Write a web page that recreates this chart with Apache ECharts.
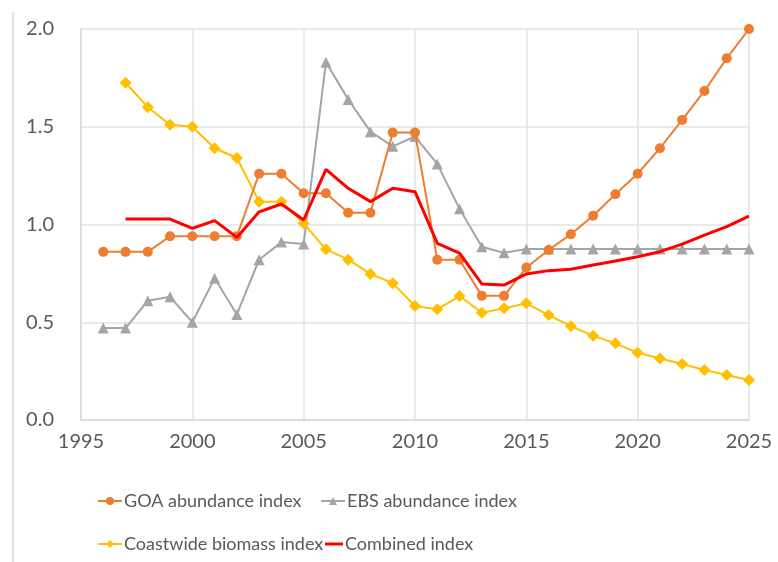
<!DOCTYPE html>
<html><head><meta charset="utf-8">
<script src="https://cdn.jsdelivr.net/npm/echarts@6/dist/echarts.min.js"></script>
<style>html,body{margin:0;padding:0;background:#fff}#c{width:778px;height:562px}</style>
</head><body><div id="c"></div>
<script>
const years = [1996,1997,1998,1999,2000,2001,2002,2003,2004,2005,2006,2007,2008,2009,2010,2011,2012,2013,2014,2015,2016,2017,2018,2019,2020,2021,2022,2023,2024,2025];
const goa = [0.86,0.86,0.86,0.94,0.94,0.94,0.94,1.26,1.26,1.16,1.16,1.06,1.06,1.47,1.47,0.82,0.82,0.635,0.635,0.78,0.87,0.95,1.045,1.155,1.26,1.39,1.535,1.683,1.85,2.0];
const ebs = [0.47,0.47,0.61,0.63,0.50,0.725,0.54,0.82,0.91,0.90,1.83,1.64,1.475,1.40,1.45,1.31,1.08,0.886,0.855,0.875,0.875,0.875,0.875,0.875,0.875,0.875,0.875,0.875,0.875,0.875];
const coast = [null,1.725,1.60,1.51,1.50,1.39,1.34,1.117,1.117,1.006,0.873,0.82,0.747,0.70,0.583,0.566,0.634,0.549,0.571,0.597,0.537,0.48,0.431,0.392,0.344,0.315,0.286,0.256,0.23,0.205];
const combined = [null,1.028,1.028,1.028,0.98,1.02,0.934,1.065,1.105,1.023,1.282,1.185,1.117,1.185,1.168,0.904,0.853,0.696,0.69,0.747,0.764,0.771,0.793,0.813,0.835,0.861,0.90,0.946,0.989,1.043];
const names = ['GOA abundance index','EBS abundance index','Coastwide biomass index','Combined index'];

const pair = a => years.map((y,i)=>[y,a[i]]).filter(p=>p[1]!==null);
const font = 'Lato, "Open Sans", sans-serif';
const chart = echarts.init(document.getElementById('c'));
const legendBase = {itemWidth:24,itemHeight:10,textStyle:{fontFamily:font,fontSize:18,color:'#595959',padding:[0,0,0,-3]},padding:0,itemGap:4};
chart.setOption({
  animation:false,
  graphic:[{type:'line',shape:{x1:13,y1:12,x2:13,y2:562},style:{stroke:'#d9d9d9',lineWidth:1.5}}],
  grid:{left:81,right:29,top:29,bottom:142},
  xAxis:{type:'value',min:1995,max:2025,interval:5,
    axisLine:{show:true,lineStyle:{color:'#d9d9d9',width:1.5}},axisTick:{show:false},
    splitLine:{show:true,lineStyle:{color:'#e3e3e3',width:1.5}},
    axisLabel:{fontFamily:font,fontSize:20,color:'#595959',margin:12,formatter:v=>String(v)}},
  yAxis:{type:'value',min:0,max:2,interval:0.5,
    axisLine:{show:true,lineStyle:{color:'#d9d9d9',width:1.5}},axisTick:{show:false},
    splitLine:{show:true,lineStyle:{color:'#e3e3e3',width:1.5}},
    axisLabel:{fontFamily:font,fontSize:20,color:'#595959',margin:27,formatter:v=>v.toFixed(1)}},
  legend:[
    Object.assign({},legendBase,{data:[names[0]],left:97,top:492}),
    Object.assign({},legendBase,{data:[names[1]],left:320,top:492}),
    Object.assign({},legendBase,{data:[names[2]],left:97,top:535}),
    Object.assign({},legendBase,{data:[{name:names[3],icon:'rect'}],itemHeight:3,itemWidth:18,left:325,top:535})
  ],
  series:[
    {name:names[0],type:'line',data:pair(goa),color:'#ED7D31',symbol:'circle',symbolSize:10,lineStyle:{width:2},z:3},
    {name:names[1],type:'line',data:pair(ebs),color:'#A5A5A5',symbol:'triangle',symbolSize:11,lineStyle:{width:2},z:2},
    {name:names[2],type:'line',data:pair(coast),color:'#FFC000',symbol:'diamond',symbolSize:12,lineStyle:{width:2},z:2},
    {name:names[3],type:'line',data:pair(combined),color:'#FF0000',symbol:'none',lineStyle:{width:3},z:4}
  ]
});
</script></body></html>
